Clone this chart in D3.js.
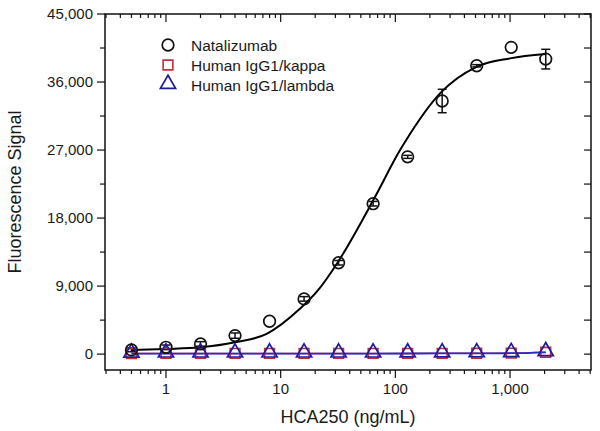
<!DOCTYPE html>
<html>
<head>
<meta charset="utf-8">
<script src="https://cdn.jsdelivr.net/npm/d3@7"></script>
<style>
  body { margin: 0; background: #fff; }
  text { font-family: "Liberation Sans", Arial, sans-serif; fill: #1a1a1a; }
</style>
</head>
<body>
<svg id="chart" width="600" height="431"></svg>
<script>
// concentrations (ng/mL)
const conc = [0.5, 1, 2, 4, 8, 16, 32, 64, 128, 256, 512, 1024, 2048];
const natalizumab = [560, 900, 1350, 2450, 4350, 7310, 12090, 19900, 26100, 33490, 38150, 40590, 39030];
const natalizumabErr = [250, 300, 300, 350, 0, 300, 300, 300, 200, 1550, 150, 0, 1300];
const kappa = [80, 90, 90, 90, 90, 90, 90, 90, 90, 100, 110, 130, 250];
const lambda = [60, 70, 70, 70, 70, 70, 70, 70, 80, 90, 100, 120, 240];

// fitted curve
const fitX = [0.5, 1, 2, 4, 7.55, 14.7, 21.1, 31, 66.4, 109.6, 124, 245, 511, 1000, 2048];
const fitY = [560, 690, 900, 1560, 2680, 5990, 8420, 12000, 20780, 26970, 28300, 34490, 38010, 39130, 39700];

const yTicks = [0, 9000, 18000, 27000, 36000, 45000];
const xTickLabels = [1, 10, 100, 1000];

const legendNames = ["Natalizumab", "Human IgG1/kappa", "Human IgG1/lambda"];

const svg = d3.select("#chart");
const plotL = 105, plotR = 591, plotT = 14, plotB = 370;

const x = d3.scaleLog().domain([0.294, 5080]).range([plotL, plotR]);
const y = d3.scaleLinear().domain([-2100, 45000]).range([plotB, plotT]);

const fmt = d3.format(",");

// frame
svg.append("rect")
    .attr("x", plotL).attr("y", plotT)
    .attr("width", plotR - plotL).attr("height", plotB - plotT)
    .attr("fill", "none").attr("stroke", "#111").attr("stroke-width", 1.5);

// x axis ticks
const xMinor = x.ticks().filter(d => d >= 0.294 && d <= 5080);
const isMajor = d => xTickLabels.includes(d);
svg.append("g").selectAll("line")
    .data(xMinor)
    .join("line")
    .attr("x1", d => x(d)).attr("x2", d => x(d))
    .attr("y1", plotB).attr("y2", d => plotB + (isMajor(d) ? 8 : 4))
    .attr("stroke", "#111").attr("stroke-width", 1.2);
svg.append("g").selectAll("line")
    .data(xMinor)
    .join("line")
    .attr("x1", d => x(d)).attr("x2", d => x(d))
    .attr("y1", plotT).attr("y2", d => plotT + (isMajor(d) ? 8 : 4))
    .attr("stroke", "#111").attr("stroke-width", 1.2);
svg.append("g").selectAll("text")
    .data(xTickLabels)
    .join("text")
    .attr("x", d => x(d)).attr("y", plotB + 24)
    .attr("text-anchor", "middle")
    .attr("font-size", 15)
    .text(d => fmt(d));

// y axis ticks
const yAll = d3.range(0, 45001, 4500);
svg.append("g").selectAll("line")
    .data(yAll)
    .join("line")
    .attr("x1", d => plotL - (yTicks.includes(d) ? 8 : 5)).attr("x2", plotL)
    .attr("y1", d => y(d)).attr("y2", d => y(d))
    .attr("stroke", "#111").attr("stroke-width", 1.2);
svg.append("g").selectAll("line")
    .data(yAll)
    .join("line")
    .attr("x1", plotR - 7).attr("x2", plotR)
    .attr("y1", d => y(d)).attr("y2", d => y(d))
    .attr("stroke", "#111").attr("stroke-width", 1.2);
svg.append("g").selectAll("text")
    .data(yTicks)
    .join("text")
    .attr("x", plotL - 12).attr("y", d => y(d) + 5)
    .attr("text-anchor", "end")
    .attr("font-size", 15)
    .text(d => fmt(d));

// axis titles
svg.append("text")
    .attr("x", (plotL + plotR) / 2).attr("y", 423)
    .attr("text-anchor", "middle")
    .attr("font-size", 18)
    .text("HCA250 (ng/mL)");
svg.append("text")
    .attr("transform", `translate(21, ${(plotT + plotB) / 2}) rotate(-90)`)
    .attr("text-anchor", "middle")
    .attr("font-size", 18)
    .text("Fluorescence Signal");

const line = d3.line()
    .x(d => x(d[0]))
    .y(d => y(d[1]))
    .curve(d3.curveMonotoneX);

// control lines
svg.append("path")
    .datum(d3.zip(conc, kappa))
    .attr("d", line)
    .attr("fill", "none").attr("stroke", "#c0303a").attr("stroke-width", 1.5);
svg.append("path")
    .datum(d3.zip(conc, lambda))
    .attr("d", line)
    .attr("fill", "none").attr("stroke", "#2a2ad0").attr("stroke-width", 1.8);

// fit curve
svg.append("path")
    .datum(d3.zip(fitX, fitY))
    .attr("d", line)
    .attr("fill", "none").attr("stroke", "#000").attr("stroke-width", 2);

// error bars
const nat = d3.zip(conc, natalizumab, natalizumabErr).filter(d => d[2] > 0);
const eb = svg.append("g").attr("stroke", "#111").attr("stroke-width", 1.5);
eb.selectAll("line.v").data(nat).join("line").attr("class", "v")
    .attr("x1", d => x(d[0])).attr("x2", d => x(d[0]))
    .attr("y1", d => y(d[1] - d[2])).attr("y2", d => y(d[1] + d[2]));
eb.selectAll("line.t").data(nat).join("line").attr("class", "t")
    .attr("x1", d => x(d[0]) - 4.5).attr("x2", d => x(d[0]) + 4.5)
    .attr("y1", d => y(d[1] + d[2])).attr("y2", d => y(d[1] + d[2]));
eb.selectAll("line.b").data(nat).join("line").attr("class", "b")
    .attr("x1", d => x(d[0]) - 4.5).attr("x2", d => x(d[0]) + 4.5)
    .attr("y1", d => y(d[1] - d[2])).attr("y2", d => y(d[1] - d[2]));

// markers
const sq = d3.symbol().type(d3.symbolSquare).size(95);
const tri = d3.symbol().type(d3.symbolTriangle).size(100);

svg.append("g").selectAll("path")
    .data(d3.zip(conc, kappa))
    .join("path")
    .attr("d", sq)
    .attr("transform", d => `translate(${x(d[0])},${y(d[1])})`)
    .attr("fill", "none").attr("stroke", "#c0303a").attr("stroke-width", 1.6);
svg.append("g").selectAll("path")
    .data(d3.zip(conc, lambda))
    .join("path")
    .attr("d", tri)
    .attr("transform", d => `translate(${x(d[0])},${y(d[1]) - 1})`)
    .attr("fill", "none").attr("stroke", "#1c1c9c").attr("stroke-width", 1.7);
svg.append("g").selectAll("circle")
    .data(d3.zip(conc, natalizumab))
    .join("circle")
    .attr("cx", d => x(d[0])).attr("cy", d => y(d[1]))
    .attr("r", 5.8)
    .attr("fill", "none").attr("stroke", "#111").attr("stroke-width", 1.7);

// legend
const legend = svg.append("g").attr("transform", "translate(168, 45)");
legendNames.forEach((name, i) => {
    const g = legend.append("g").attr("transform", `translate(0, ${i * 20})`);
    if (i === 0) {
        g.append("circle").attr("r", 5.8)
            .attr("fill", "none").attr("stroke", "#111").attr("stroke-width", 1.7);
    } else if (i === 1) {
        g.append("path").attr("d", sq)
            .attr("fill", "none").attr("stroke", "#c0303a").attr("stroke-width", 1.6);
    } else {
        g.append("path").attr("d", tri).attr("transform", "translate(0,-1)")
            .attr("fill", "none").attr("stroke", "#1c1c9c").attr("stroke-width", 1.7);
    }
    g.append("text")
        .attr("x", 23).attr("y", 5.5)
        .attr("font-size", 15.5)
        .text(name);
});
</script>
</body>
</html>
